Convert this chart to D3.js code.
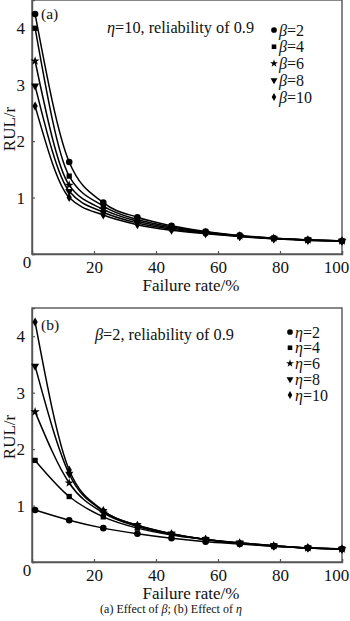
<!DOCTYPE html>
<html>
<head>
<meta charset="utf-8">
<script src="https://cdn.jsdelivr.net/npm/d3@7/dist/d3.min.js"></script>
<style>
  html, body { margin: 0; padding: 0; background: #fff; }
  svg text { font-family: "Liberation Serif", "Times New Roman", "DejaVu Serif", serif; }
</style>
</head>
<body>
<svg id="chart" width="350" height="621"></svg>
<script>
// Failure rate (%) at which RUL/r was evaluated
const failureRate = [1, 12, 23, 34, 45, 56, 67, 78, 89, 100];
const xTicks = [20, 40, 60, 80, 100];
const yTicks = [1, 2, 3, 4];

// (a) eta = 10, varying beta
const betaLabels = ["2", "4", "6", "8", "10"];
const betaSeries = [
  [4.25, 1.63, 0.91, 0.65, 0.50, 0.40, 0.33, 0.28, 0.25, 0.23],
  [4.00, 1.38, 0.85, 0.61, 0.48, 0.39, 0.32, 0.28, 0.25, 0.23],
  [3.42, 1.22, 0.79, 0.58, 0.46, 0.38, 0.32, 0.28, 0.25, 0.23],
  [2.98, 1.11, 0.74, 0.55, 0.44, 0.37, 0.31, 0.27, 0.25, 0.23],
  [2.62, 1.00, 0.69, 0.52, 0.42, 0.36, 0.31, 0.27, 0.24, 0.23]
];

// (b) beta = 2, varying eta
const etaLabels = ["2", "4", "6", "8", "10"];
const etaSeries = [
  [0.92, 0.74, 0.60, 0.50, 0.42, 0.36, 0.32, 0.28, 0.25, 0.23],
  [1.80, 1.16, 0.80, 0.60, 0.48, 0.40, 0.33, 0.29, 0.25, 0.23],
  [2.66, 1.40, 0.87, 0.63, 0.49, 0.40, 0.34, 0.29, 0.25, 0.23],
  [3.47, 1.56, 0.90, 0.65, 0.50, 0.40, 0.34, 0.29, 0.25, 0.23],
  [4.25, 1.63, 0.91, 0.65, 0.50, 0.40, 0.33, 0.28, 0.25, 0.23]
];

const SERIF = "'Liberation Serif', 'Times New Roman', 'DejaVu Serif', serif";
const svg = d3.select("#chart");

// marker shapes, one per series
const shapes = [
  { type: d3.symbolCircle, size: 34, rot: 0 },
  { type: d3.symbolSquare, size: 28, rot: 0 },
  { type: d3.symbolStar, size: 26, rot: 0 },
  { type: d3.symbolTriangle, size: 28, rot: 180 },
  { type: d3.symbolDiamond, size: 24, rot: 0 }
];

function txt(sel) {
  return sel.append("text").attr("font-family", SERIF).attr("fill", "#111");
}

function panel(opts) {
  const left = 32, right = 342, top = opts.top, bottom = opts.bottom;
  const x = d3.scaleLinear().domain([0, 100]).range([left, right]);
  const y = d3.scaleLinear().domain([0, 4.5]).range([bottom, top]);
  const g = svg.append("g");

  // frame
  g.append("rect")
    .attr("x", left).attr("y", top)
    .attr("width", right - left).attr("height", bottom - top)
    .attr("fill", "none").attr("stroke", "#555").attr("stroke-width", 1.4);

  // axes with inward ticks
  const xAxis = d3.axisBottom(x).tickValues(xTicks).tickFormat(d3.format("d"))
    .tickSize(-3).tickPadding(6);
  const gx = g.append("g").attr("transform", `translate(0,${bottom})`).call(xAxis);
  const yAxis = d3.axisLeft(y).tickValues(yTicks).tickFormat(d3.format("d"))
    .tickSize(-3).tickPadding(7);
  const gy = g.append("g").attr("transform", `translate(${left},0)`).call(yAxis);
  [gx, gy].forEach(a => {
    a.attr("font-family", SERIF);
    a.select(".domain").attr("stroke", "#555").attr("stroke-width", 1.4);
    a.selectAll(".tick line").attr("stroke", "#555").attr("stroke-width", 1.2);
    a.selectAll(".tick text")
      .attr("font-family", SERIF)
      .attr("font-size", 17).attr("fill", "#111");
  });
  gx.selectAll(".tick text").attr("dy", "0.75em")
    .attr("dx", d => d === 100 ? -6 : 0);

  // origin label
  txt(g).attr("x", x(0) - 5).attr("y", bottom + 14)
    .attr("text-anchor", "middle").attr("font-size", 17).text("0");

  // axis titles
  txt(g).attr("x", 191).attr("y", bottom + 37)
    .attr("text-anchor", "middle").attr("font-size", 17)
    .text("Failure rate/%");
  txt(g)
    .attr("transform", `translate(15,${(top + bottom) / 2 + 2}) rotate(-90)`)
    .attr("text-anchor", "middle").attr("font-size", 17)
    .text("RUL/r");

  // curves
  const line = d3.line()
    .x((d, i) => x(failureRate[i]))
    .y(d => y(d))
    .curve(d3.curveMonotoneX);

  opts.series.forEach(s => {
    g.append("path").datum(s)
      .attr("d", line)
      .attr("fill", "none").attr("stroke", "#000").attr("stroke-width", 1.5);
  });
  opts.series.forEach((s, k) => {
    const sh = shapes[k];
    g.selectAll(null).data(s).enter().append("path")
      .attr("d", d3.symbol().type(sh.type).size(sh.size))
      .attr("transform", (d, i) => `translate(${x(failureRate[i])},${y(d)}) rotate(${sh.rot})`)
      .attr("fill", "#000");
  });

  // panel tag and condition note
  txt(g).attr("x", left + 9).attr("y", top + opts.tagDy)
    .attr("font-size", 15.5).text(opts.tag);
  const note = txt(g).attr("x", opts.noteX).attr("y", top + opts.noteDy)
    .attr("font-size", 16.3);
  note.append("tspan").attr("font-style", "italic").text(opts.noteSym);
  note.append("tspan").text(opts.noteText);

  // legend
  opts.labels.forEach((lab, k) => {
    const ly = top + opts.legY + k * opts.legStep;
    const sh = shapes[k];
    g.append("path")
      .attr("d", d3.symbol().type(sh.type).size(sh.size * 0.75))
      .attr("transform", `translate(${opts.legX},${ly}) rotate(${sh.rot})`)
      .attr("fill", "#000");
    const t = txt(g).attr("x", opts.legX + 5).attr("y", ly + 5.5)
      .attr("font-size", 16);
    t.append("tspan").attr("font-style", "italic").text(opts.legSym);
    t.append("tspan").text("=" + lab);
  });
}

panel({
  top: 0, bottom: 254, series: betaSeries, labels: betaLabels,
  tag: "(a)", tagDy: 19, noteSym: "\u03b7", noteText: "=10, reliability of 0.9",
  noteX: 107, noteDy: 33, legSym: "\u03b2", legX: 274, legY: 30, legStep: 16.75
});

panel({
  top: 308, bottom: 562, series: etaSeries, labels: etaLabels,
  tag: "(b)", tagDy: 22, noteSym: "\u03b2", noteText: "=2, reliability of 0.9",
  noteX: 95, noteDy: 32, legSym: "\u03b7", legX: 290, legY: 24, legStep: 15.75
});

// figure caption
const cap = txt(svg).attr("x", 171).attr("y", 613)
  .attr("text-anchor", "middle").attr("font-size", 12);
cap.append("tspan").text("(a) Effect of ");
cap.append("tspan").attr("font-style", "italic").text("\u03b2");
cap.append("tspan").text("; (b) Effect of ");
cap.append("tspan").attr("font-style", "italic").text("\u03b7");
</script>
</body>
</html>
